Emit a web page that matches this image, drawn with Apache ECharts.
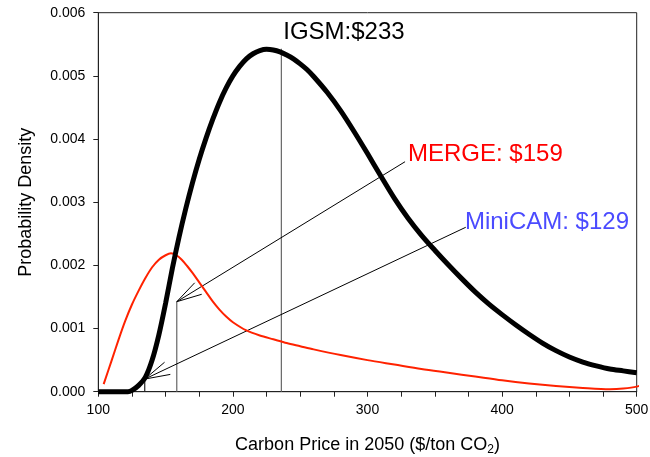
<!DOCTYPE html>
<html><head><meta charset="utf-8">
<script src="https://cdn.jsdelivr.net/npm/echarts@6/dist/echarts.min.js"></script>
<style>html,body{margin:0;padding:0;background:#fff}#c{width:650px;height:457px}</style>
</head><body><div id="c"></div>
<script>
// IGSM density (black)
const igsmX = [100,110,120,122,125,130,135,140,145,150,155,160,165,170,175,180,185,190,195,200,205,210,215,220,225,230,235,240,245,250,255,260,270,280,290,300,310,320,330,340,350,360,370,380,390,400,410,420,430,440,450,460,470,480,490,500];
const igsmY = [0,0,0,0,0.00002,0.0001,0.00023,0.0005,0.0009,0.0014,0.00195,0.00245,0.0029,0.00331,0.00368,0.00401,0.00431,0.00458,0.00481,0.005,0.00515,0.00527,0.00535,0.0054,0.00542,0.00541,0.00538,0.00533,0.00527,0.00519,0.0051,0.00499,0.00474,0.00445,0.00412,0.00377,0.00341,0.00306,0.00275,0.00248,0.00224,0.00201,0.00179,0.00158,0.00139,0.00122,0.00106,0.00091,0.00077,0.00065,0.00055,0.00047,0.00041,0.00036,0.00033,0.0003];
// MERGE density (red)
const mergeX = [104,110,115,120,125,130,135,140,145,150,154,158,162,166,170,175,180,185,190,195,200,210,220,230,240,250,260,280,300,320,340,360,380,400,420,440,460,480,490,500,508];
const mergeY = [0.00012,0.0005,0.00082,0.00112,0.00138,0.0016,0.0018,0.00197,0.00209,0.00216,0.00219,0.00216,0.00209,0.00199,0.00188,0.00173,0.00158,0.00143,0.0013,0.00119,0.0011,0.00097,0.00089,0.00083,0.00077,0.00072,0.00067,0.00058,0.0005,0.00043,0.00036,0.0003,0.00024,0.00018,0.00013,0.00009,0.00006,0.00004,0.00005,0.00008,0.00014];
// annotations (data coordinates)
const annoText = ['IGSM:$233', 'MERGE: $159', 'MiniCAM: $129'];
const markerX = [236, 158.3, 134.5];
const markerTop = [0.00543, 0.001425, 0.0002];
const arrowFromX = [null, 327.9, 373.0];
const arrowFromY = [null, 0.003641, 0.002603];
const labelX = [237.4, 330.1, 372.4];
const labelY = [0.00569, 0.003752, 0.002678];
const xMin = 100, xMax = 500, xStep = 25, xLabelStep = 100;
const yMin = 0, yMax = 0.006, yStep = 0.001;

const FONT = '"Liberation Sans", Arial, sans-serif';
const annoColors = ['#000000', '#ff0000', '#4b4bff'];
const markerColors = ['#666666', '#666666', '#222222'];

const chart = echarts.init(document.getElementById('c'), null, {renderer: 'canvas'});
const annoData = annoText.map((t, i) => [markerX[i], markerTop[i], arrowFromX[i], arrowFromY[i], labelX[i], labelY[i], i]);

function renderAnno(params, api) {
  const i = api.value(6);
  const base = api.coord([api.value(0), 0]);
  const tip = api.coord([api.value(0), api.value(1)]);
  const children = [{
    type: 'line', shape: {x1: base[0], y1: base[1], x2: tip[0], y2: tip[1]},
    style: {stroke: markerColors[i], lineWidth: 1.2}
  }];
  if (arrowFromX[i] != null) {
    const tail = api.coord([api.value(2), api.value(3)]);
    children.push({type: 'line', shape: {x1: tail[0], y1: tail[1], x2: tip[0], y2: tip[1]}, style: {stroke: '#000', lineWidth: 1}});
    const dx = tail[0] - tip[0], dy = tail[1] - tip[1];
    const L = Math.hypot(dx, dy), ux = dx / L, uy = dy / L;
    const a = 15 * Math.PI / 180, len = 26;
    const p1 = [tip[0] + len * (ux * Math.cos(a) - uy * Math.sin(a)), tip[1] + len * (ux * Math.sin(a) + uy * Math.cos(a))];
    const p2 = [tip[0] + len * (ux * Math.cos(-a) - uy * Math.sin(-a)), tip[1] + len * (ux * Math.sin(-a) + uy * Math.cos(-a))];
    children.push({type: 'polyline', shape: {points: [p1, tip, p2]}, style: {stroke: '#000', lineWidth: 1, fill: null}});
  }
  const lp = api.coord([api.value(4), api.value(5)]);
  children.push({type: 'text', z2: 100, style: {text: annoText[i], x: lp[0], y: lp[1], fill: annoColors[i], fontSize: 24, fontFamily: FONT, align: 'left', verticalAlign: 'middle'}});
  return {type: 'group', children};
}

chart.setOption({
  animation: false,
  backgroundColor: '#fff',
  grid: {left: 98.3, right: 13.3, top: 12.7, bottom: 65.3, containLabel: false, outerBoundsMode: 'none',
    show: true, borderColor: '#222', borderWidth: 1},
  xAxis: {
    type: 'value', min: xMin, max: xMax, interval: xStep,
    name: '{a|Carbon Price in 2050 ($/ton CO}{s|2}{a|)}', nameLocation: 'middle', nameGap: 43,
    nameTextStyle: {rich: {a: {fontSize: 18, fontFamily: FONT, color: '#000', lineHeight: 20}, s: {fontSize: 12, fontFamily: FONT, color: '#000', lineHeight: 20, padding: [10, 0, 0, 0]}}},
    axisLine: {show: true, lineStyle: {color: '#222', width: 1}},
    axisTick: {show: true, length: 5, inside: false, lineStyle: {color: '#222'}},
    axisLabel: {margin: 11, fontSize: 14, fontFamily: FONT, color: '#000',
      formatter: v => (Math.abs(v % xLabelStep) < 1e-9 ? String(v) : '')},
    splitLine: {show: false}
  },
  yAxis: {
    type: 'value', min: yMin, max: yMax, interval: yStep,
    name: 'Probability Density', nameLocation: 'middle', nameGap: 63,
    nameTextStyle: {fontSize: 18, fontFamily: FONT, color: '#000'},
    axisLine: {show: true, lineStyle: {color: '#222', width: 1}},
    axisTick: {show: true, length: 5, inside: false, lineStyle: {color: '#222'}},
    axisLabel: {margin: 13, fontSize: 14, fontFamily: FONT, color: '#000', formatter: v => v.toFixed(3)},
    splitLine: {show: false}
  },
  series: [
    {type: 'custom', renderItem: renderAnno, data: annoData, z: 1, silent: true, clip: false},
    {type: 'line', data: mergeX.map((x, i) => [x, mergeY[i]]), showSymbol: false, smooth: 0.3, clip: false,
      lineStyle: {color: '#ff2200', width: 2}, z: 2},
    {type: 'line', data: igsmX.map((x, i) => [x, igsmY[i]]), showSymbol: false, smooth: 0.3, clip: false,
      lineStyle: {color: '#000', width: 5}, z: 3}
  ]
});
</script></body></html>
